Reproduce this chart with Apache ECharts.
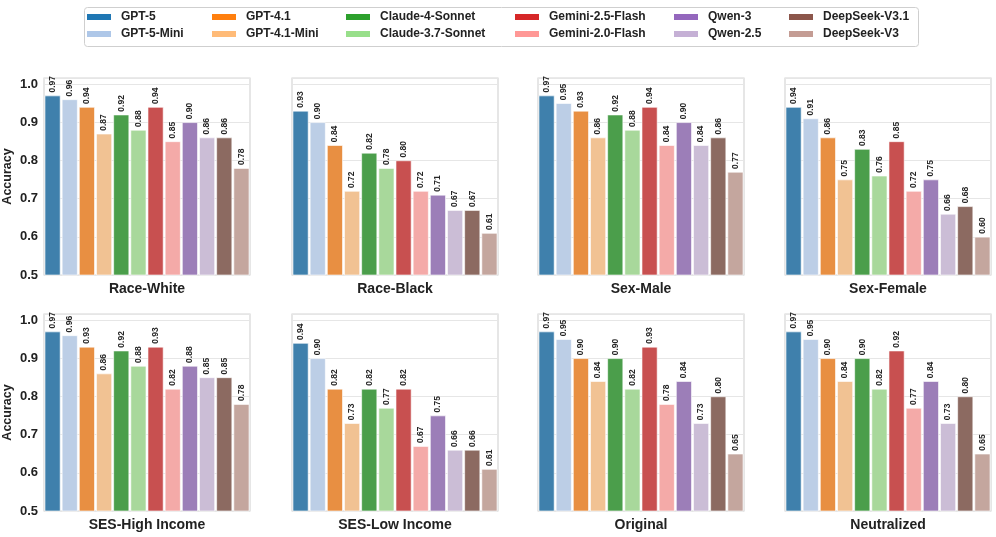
<!DOCTYPE html>
<html>
<head>
<meta charset="utf-8">
<script src="https://cdn.jsdelivr.net/npm/echarts@6/dist/echarts.min.js"></script>
<style>html,body{margin:0;padding:0;background:#fff;}#c{width:996px;height:537px;}</style>
</head>
<body>
<div id="c"></div>
<script>
const models = ['GPT-5','GPT-5-Mini','GPT-4.1','GPT-4.1-Mini','Claude-4-Sonnet','Claude-3.7-Sonnet','Gemini-2.5-Flash','Gemini-2.0-Flash','Qwen-3','Qwen-2.5','DeepSeek-V3.1','DeepSeek-V3'];
const panels = ['Race-White','Race-Black','Sex-Male','Sex-Female','SES-High Income','SES-Low Income','Original','Neutralized'];
const raceWhite   = [0.97,0.96,0.94,0.87,0.92,0.88,0.94,0.85,0.90,0.86,0.86,0.78];
const raceBlack   = [0.93,0.90,0.84,0.72,0.82,0.78,0.80,0.72,0.71,0.67,0.67,0.61];
const sexMale     = [0.97,0.95,0.93,0.86,0.92,0.88,0.94,0.84,0.90,0.84,0.86,0.77];
const sexFemale   = [0.94,0.91,0.86,0.75,0.83,0.76,0.85,0.72,0.75,0.66,0.68,0.60];
const sesHigh     = [0.97,0.96,0.93,0.86,0.92,0.88,0.93,0.82,0.88,0.85,0.85,0.78];
const sesLow      = [0.94,0.90,0.82,0.73,0.82,0.77,0.82,0.67,0.75,0.66,0.66,0.61];
const original    = [0.97,0.95,0.90,0.84,0.90,0.82,0.93,0.78,0.84,0.73,0.80,0.65];
const neutralized = [0.97,0.95,0.90,0.84,0.90,0.82,0.92,0.77,0.84,0.73,0.80,0.65];
const yTicks = [0.5,0.6,0.7,0.8,0.9,1.0];

const panelData = [raceWhite, raceBlack, sexMale, sexFemale, sesHigh, sesLow, original, neutralized];

// styles
const barColors = ['#3f80ac','#bccee6','#e88f42','#f1c293','#4b9e4b','#a8d89b','#c85050','#f4aaa8','#9c7eb8','#cbbdd6','#8c6a61','#c4a69e'];
const legendColors = ['#1f77b4','#aec7e8','#ff7f0e','#ffbb78','#2ca02c','#98df8a','#d62728','#ff9896','#9467bd','#c5b0d5','#8c564b','#c49c94'];
const FONT = '"Liberation Sans", Arial, sans-serif';
const colLeft = [44, 292, 538, 785];
const rowTop = [78, 314];
const gw = 206, gh = 197;

const grids = [], xAxes = [], yAxes = [], series = [];
panels.forEach((p, k) => {
  const r = Math.floor(k / 4), c = k % 4;
  grids.push({left: colLeft[c], top: rowTop[r], width: gw, height: gh, show: true, borderColor: '#d6d6d6', borderWidth: 1.2, containLabel: false});
  xAxes.push({
    type: 'category', gridIndex: k, data: models,
    axisLine: {show: false}, axisTick: {show: false}, axisLabel: {show: false},
    name: p, nameLocation: 'middle', nameGap: 7,
    nameTextStyle: {fontFamily: FONT, fontWeight: 'bold', fontSize: 14, color: '#222'}
  });
  yAxes.push({
    type: 'value', gridIndex: k, min: 0.5, max: 1.016, interval: 0.1,
    axisLine: {show: false}, axisTick: {show: false},
    axisLabel: {show: c === 0, fontFamily: FONT, fontWeight: 'bold', fontSize: 13, color: '#222', margin: 6,
      formatter: v => yTicks.some(t => Math.abs(t - v) < 1e-6) ? v.toFixed(1) : ''},
    splitLine: {show: true, lineStyle: {color: '#e6e6e6', width: 1.2}},
    name: c === 0 ? 'Accuracy' : '', nameLocation: 'middle', nameGap: 30, nameRotate: 90,
    nameTextStyle: {fontFamily: FONT, fontWeight: 'bold', fontSize: 12.5, color: '#222'}
  });
  const vals = panelData[k];
  models.forEach((m, i) => {
    series.push({
      name: m, type: 'bar', xAxisIndex: k, yAxisIndex: k,
      data: vals.map((v, j) => j === i ? v : '-'),
      barGap: '-100%', barCategoryGap: '8%',
      itemStyle: {color: barColors[i], borderColor: '#fff', borderWidth: 0.6},
      label: {show: true, position: 'top', rotate: 90, align: 'left', verticalAlign: 'middle', distance: 3,
        fontFamily: FONT, fontWeight: 'bold', fontSize: 8.5, color: '#262626',
        formatter: d => d.value.toFixed(2)},
      emphasis: {disabled: true}, animation: false
    });
  });
});

const legendCols = [85, 210, 344, 513, 672, 787];
const legends = legendCols.map((x, c) => ({
  orient: 'vertical', left: x, top: 11, padding: 0, itemWidth: 26, itemHeight: 8, itemGap: 5,
  data: [models[2*c], models[2*c+1]].map((n) => ({name: n, itemStyle: {color: legendColors[models.indexOf(n)]}})),
  textStyle: {fontFamily: FONT, fontWeight: 'bold', fontSize: 12, color: '#222', padding: [0, 0, 0, 4]},
  selectedMode: false, icon: 'rect'
}));

const chart = echarts.init(document.getElementById('c'), null, {renderer: 'canvas'});
chart.setOption({
  backgroundColor: '#fff', animation: false,
  graphic: [{type: 'rect', left: 82, top: 5, shape: {width: 834, height: 39, r: 3}, style: {fill: 'none', stroke: '#cfcfcf', lineWidth: 1}, z: -1}],
  legend: legends, grid: grids, xAxis: xAxes, yAxis: yAxes, series: series
});
</script>
</body>
</html>
